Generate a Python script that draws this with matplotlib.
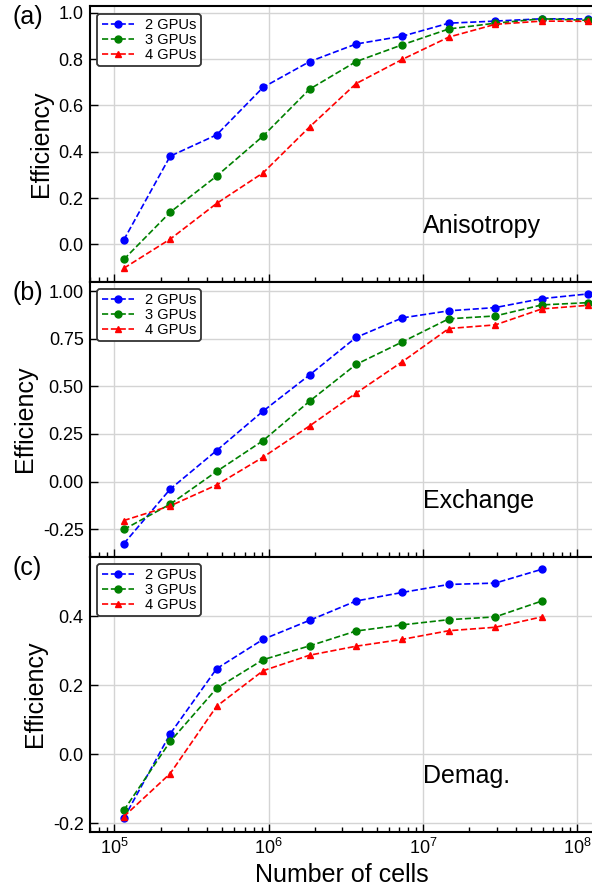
#Importing numpy and pyplot

import numpy as np
import matplotlib
matplotlib.use('Agg')
import matplotlib.pyplot as plt
from matplotlib import transforms

plt.rcParams['font.family'] = ['Liberation Sans', 'DejaVu Sans']
plt.rcParams['mathtext.default'] = 'regular'

cells = [1.15e5, 2.3e5, 4.6e5, 9.2e5, 1.84e6, 3.68e6, 7.36e6, 1.47e7, 2.94e7, 5.89e7, 1.18e8]
labels = ['2 GPUs', '3 GPUs', '4 GPUs']

# (a) anisotropy
aniso_2 = [0.019, 0.381, 0.473, 0.678, 0.789, 0.865, 0.899, 0.955, 0.964, 0.974, 0.973]
aniso_3 = [-0.065, 0.139, 0.295, 0.468, 0.670, 0.789, 0.862, 0.930, 0.955, 0.974, 0.967]
aniso_4 = [-0.103, 0.023, 0.177, 0.309, 0.507, 0.694, 0.799, 0.895, 0.950, 0.964, 0.963]

# (b) exchange
exch_2 = [-0.327, -0.040, 0.163, 0.370, 0.560, 0.757, 0.860, 0.897, 0.914, 0.961, 0.986]
exch_3 = [-0.252, -0.119, 0.053, 0.215, 0.422, 0.615, 0.734, 0.855, 0.870, 0.928, 0.940]
exch_4 = [-0.205, -0.128, -0.018, 0.128, 0.292, 0.464, 0.630, 0.804, 0.823, 0.907, 0.926]

# (c) demag (no point at the largest size)
demag_2 = [-0.186, 0.059, 0.248, 0.333, 0.388, 0.444, 0.469, 0.492, 0.496, 0.536]
demag_3 = [-0.163, 0.037, 0.191, 0.274, 0.314, 0.357, 0.375, 0.390, 0.398, 0.444]
demag_4 = [-0.181, -0.056, 0.139, 0.242, 0.287, 0.313, 0.333, 0.358, 0.368, 0.398]

panels = [
    ('(a)', 'Anisotropy', [aniso_2, aniso_3, aniso_4], (-0.16, 1.027), np.arange(0, 1.01, 0.2), '%.1f'),
    ('(b)', 'Exchange', [exch_2, exch_3, exch_4], (-0.394, 1.051), np.arange(-0.25, 1.01, 0.25), '%.2f'),
    ('(c)', 'Demag.', [demag_2, demag_3, demag_4], (-0.224, 0.573), np.arange(-0.2, 0.41, 0.2), '%.1f'),
]
colors = ['b', 'g', 'r']
markers = ['o', 'o', '^']

fig = plt.figure(figsize=(5.92, 8.90), dpi=100)

left, width = 0.152, 0.852
height = 0.309
bottoms = [0.0657 + 2*height, 0.0657 + height, 0.0657]

axes = []
for i, (tag, name, series, ylim, yticks, fmt) in enumerate(panels):
    ax = fig.add_axes([left, bottoms[i], width, height])
    axes.append(ax)
    for y, c, m, lab in zip(series, colors, markers, labels):
        ax.plot(cells[:len(y)], y, color=c, marker=m, linestyle='--', lw=1.2, ms=5, label=lab)

    ax.set_xscale('log')
    ax.set_xlim(6.95e4, 1.29e8)
    ax.set_ylim(*ylim)
    ax.set_yticks(yticks)
    ax.yaxis.set_major_formatter(matplotlib.ticker.FormatStrFormatter(fmt))
    ax.set_ylabel('Efficiency', fontsize=18)

    ax.grid(True, which='major', color='#d4d4d4', lw=1.0)
    ax.set_axisbelow(True)
    ax.tick_params(which='both', direction='in', labelsize=13, width=1.0)
    ax.tick_params(which='major', length=5.5, pad=4.5)
    ax.tick_params(which='minor', length=3.5)
    for s in ax.spines.values():
        s.set_linewidth(1.5)
    if i < 2:
        ax.tick_params(axis='x', which='both', labelbottom=False)

    leg = ax.legend(loc='upper left', fontsize=10.5, labelspacing=0.05, handlelength=2.2,
                    handletextpad=0.8, borderpad=0.3, framealpha=1, fancybox=True)
    leg.get_frame().set_edgecolor('#333333')
    leg.get_frame().set_linewidth(1.3)

    trans = transforms.blended_transform_factory(ax.transData, ax.transAxes)
    ax.text(1.0e7, 0.178, name, transform=trans, fontsize=18, ha='left', va='baseline')
    ax.text(-0.154, 0.96, tag, transform=ax.transAxes, fontsize=18, ha='left', va='center')

axes[2].set_xlabel('Number of cells', fontsize=18)

plt.savefig('out.png', dpi=100)
